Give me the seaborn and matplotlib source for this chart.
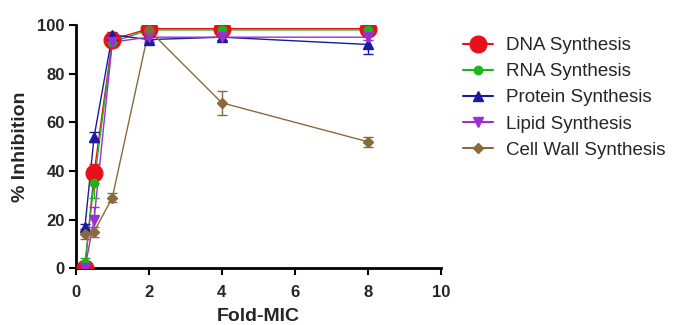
import numpy as np
import pandas as pd
import matplotlib
matplotlib.use("Agg")
import matplotlib.pyplot as plt
from matplotlib.lines import Line2D
import seaborn as sns

# fold-MIC doses
fold_mic = [0.25, 0.5, 1, 2, 4, 8]

dna = [0, 39, 94, 98.5, 98.5, 98.5]
dna_err = [1, 4, 2, 1, 1, 1]
rna = [2, 35, 93, 98, 98, 98]
rna_err = [2, 6, 2, 1, 1, 1]
protein = [17, 54, 96, 94, 95, 92]
protein_err = [1, 2, 1, 1, 1, 4]
lipid = [0, 20, 93, 95, 95, 95]
lipid_err = [1, 5, 2, 1, 1, 1]
cell_wall = [14, 15, 29, 98, 68, 52]
cell_wall_err = [2, 2, 2, 1, 5, 2]

names = ["DNA Synthesis", "RNA Synthesis", "Protein Synthesis",
         "Lipid Synthesis", "Cell Wall Synthesis"]

sns.set_style("white")
plt.rcParams['font.family'] = ['Liberation Sans', 'DejaVu Sans']

fig = plt.figure(figsize=(6.77, 3.25), dpi=100)
ax = fig.add_axes([0.112, 0.175, 0.539, 0.748])

series = [
    (dna, dna_err, "#e8101a", "o", 12),
    (rna, rna_err, "#1fb31f", "o", 6),
    (protein, protein_err, "#1a1a9e", "^", 7),
    (lipid, lipid_err, "#9a2fd6", "v", 7),
    (cell_wall, cell_wall_err, "#8a6a3a", "D", 5.5),
]

rows = []
for name, (vals, errs, c, m, s) in zip(names, series):
    for x, v in zip(fold_mic, vals):
        rows.append({"Fold-MIC": x, "Inhibition": v, "series": name})
df = pd.DataFrame(rows)

palette = {n: s[2] for n, s in zip(names, series)}
sns.lineplot(data=df, x="Fold-MIC", y="Inhibition", hue="series",
             palette=palette, linewidth=1, ax=ax, legend=False)

handles = []
for name, (vals, errs, c, m, s) in zip(names, series):
    ax.errorbar(fold_mic, vals, yerr=errs, fmt=m, color=c, ms=s,
                capsize=3.5, elinewidth=1, capthick=1, zorder=3)
    handles.append(Line2D([], [], color=c, marker=m, ms=s, lw=1.5, label=name))

ax.set_xlim(0, 10)
ax.set_ylim(0, 100)
ax.set_xticks([0, 2, 4, 6, 8, 10])
ax.set_yticks([0, 20, 40, 60, 80, 100])
ax.set_xlabel("Fold-MIC", fontsize=14, fontweight="bold", labelpad=6)
ax.set_ylabel("% Inhibition", fontsize=14, fontweight="bold", labelpad=6)
for lbl in ax.get_xticklabels() + ax.get_yticklabels():
    lbl.set_fontweight("bold")
ax.tick_params(axis="both", direction="out", length=5, width=1.5,
               labelsize=12, color="black", bottom=True, left=True, pad=3)
ax.tick_params(axis="x", pad=7)
sns.despine(ax=ax)
for sp in ["left", "bottom"]:
    ax.spines[sp].set_linewidth(2)
    ax.spines[sp].set_color("black")

ax.legend(handles=handles, loc="upper left", bbox_to_anchor=(1.016, 1.02),
          frameon=False, fontsize=13.5, handlelength=1.6, handletextpad=0.65,
          labelspacing=0.48)

fig.savefig("out.png", dpi=100)
